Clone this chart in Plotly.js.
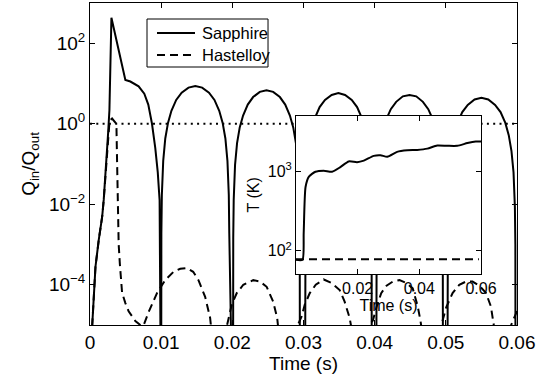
<!DOCTYPE html>
<html>
<head>
<meta charset="utf-8">
<script src="https://cdn.plot.ly/plotly-3.0.1.min.js"></script>
<style>html,body{margin:0;padding:0;background:#fff;}#chart{width:542px;height:379px;}</style>
</head>
<body>
<div id="chart"></div>
<script>
// ---- Main plot: Q_in/Q_out vs time ----
const sapphireTime = [
  0, 0.0003, 0.00053, 0.00077, 0.00123, 0.00171, 0.00193, 0.00227, 0.00255, 0.00273, 0.00287, 0.00301,
  0.00497, 0.00567, 0.00683, 0.00763, 0.00819, 0.00871, 0.00917, 0.00952, 0.00978, 0.00987,
  0.01000, 0.010029, 0.010096, 0.010288, 0.010576, 0.01096, 0.01144, 0.012112, 0.01288, 0.01384, 0.0148,
  0.01576, 0.01672, 0.017488, 0.01816, 0.01864, 0.019024, 0.019312, 0.019504, 0.019571, 0.0196,
  0.0201, 0.020128, 0.020194, 0.020382, 0.020664, 0.02104, 0.02151, 0.022168, 0.02292, 0.02386, 0.0248,
  0.02574, 0.02668, 0.027432, 0.02809, 0.02856, 0.028936, 0.029218, 0.029406, 0.029472, 0.0295,
  0.0302, 0.030228, 0.030294, 0.030482, 0.030764, 0.03114, 0.03161, 0.032268, 0.03302, 0.03396, 0.0349,
  0.03584, 0.03678, 0.037532, 0.03819, 0.03866, 0.039036, 0.039318, 0.039506, 0.039572, 0.0396,
  0.0402, 0.040228, 0.040294, 0.040482, 0.040764, 0.04114, 0.04161, 0.042268, 0.04302, 0.04396, 0.0449,
  0.04584, 0.04678, 0.047532, 0.04819, 0.04866, 0.049036, 0.049318, 0.049506, 0.049572, 0.0496,
  0.0502, 0.050229, 0.050296, 0.050488, 0.050776, 0.05116, 0.05164, 0.052312, 0.05308, 0.05404, 0.055,
  0.05596, 0.05692, 0.057688, 0.05836, 0.05884, 0.059224, 0.059512, 0.059704, 0.059771, 0.0598
];
const sapphireQ = [
  1e-6, 1e-5, 4.2e-5, 2.8e-4, 1.3e-3, 4.9e-3, 0.013, 0.087, 0.6, 2.2, 27, 430,
  12.3, 11.2, 8.5, 5.6, 3.0, 1.0, 0.25, 0.063, 0.0126, 1e-8,
  1e-8, 1.9e-3, 1.7e-2, 0.12, 0.43, 1.05, 2.1, 3.9, 5.9, 7.9, 8.7,
  7.9, 5.9, 3.9, 2.1, 1.05, 0.43, 0.12, 1.7e-2, 1.9e-3, 1e-8,
  1e-8, 1.5e-3, 1.3e-2, 9.5e-2, 0.33, 0.81, 1.6, 3.0, 4.6, 6.2, 6.8,
  6.2, 4.6, 3.0, 1.6, 0.81, 0.33, 9.5e-2, 1.3e-2, 1.5e-3, 1e-8,
  1e-8, 1.3e-3, 1.1e-2, 8.1e-2, 0.28, 0.69, 1.4, 2.6, 3.9, 5.2, 5.8,
  5.2, 3.9, 2.6, 1.4, 0.69, 0.28, 8.1e-2, 1.1e-2, 1.3e-3, 1e-8,
  1e-8, 1.2e-3, 1.0e-2, 7.4e-2, 0.26, 0.63, 1.26, 2.3, 3.5, 4.8, 5.2,
  4.8, 3.5, 2.3, 1.26, 0.63, 0.26, 7.4e-2, 1.0e-2, 1.2e-3, 1e-8,
  1e-8, 9.8e-4, 8.5e-3, 6.2e-2, 0.21, 0.52, 1.05, 1.95, 2.95, 4.0, 4.4,
  4.0, 2.95, 1.95, 1.05, 0.52, 0.21, 6.2e-2, 8.5e-3, 9.8e-4, 1e-8
];

const hastelloyTime = [
  0, 0.0003, 0.00053, 0.00077, 0.00123, 0.00171, 0.00193, 0.00227, 0.00255, 0.00275, 0.0031, 0.0036,
  0.00371, 0.00378, 0.00385, 0.00392, 0.00403, 0.0042, 0.00451, 0.00497, 0.00543, 0.00637, 0.00707, 0.0075,
  0.00824, 0.00941, 0.01057, 0.01174, 0.01268, 0.01361, 0.0145, 0.01524, 0.01618, 0.01688, 0.01716,
  0.0182,
  0.01926, 0.01992, 0.02062, 0.02154, 0.02294, 0.02388, 0.02482, 0.02574, 0.0263, 0.02654,
  0.0279,
  0.0292, 0.02972, 0.03018, 0.03088, 0.03172, 0.03284, 0.03396, 0.03508, 0.03578, 0.03648, 0.03676,
  0.0379,
  0.03914, 0.03975, 0.04027, 0.04092, 0.04167, 0.04255, 0.04349, 0.04447, 0.04535, 0.04605, 0.04643, 0.04671,
  0.0479,
  0.04909, 0.04955, 0.05007, 0.05095, 0.05189, 0.05283, 0.05375, 0.05469, 0.05563, 0.05633, 0.05665, 0.05693,
  0.0581,
  0.05918, 0.0599, 0.06
];
const hastelloyQ = [
  1e-6, 1e-5, 4.2e-5, 2.8e-4, 1.3e-3, 4.9e-3, 0.013, 0.087, 0.6, 1.2, 1.35, 1.1,
  1.0, 0.2, 0.03, 5e-3, 1e-3, 3.2e-4, 6.3e-5, 3.5e-5, 2.2e-5, 1.26e-5, 1e-5, 9.5e-6,
  2.1e-5, 6.2e-5, 1.3e-4, 2.1e-4, 2.5e-4, 2.6e-4, 2.1e-4, 1.3e-4, 5e-5, 1.5e-5, 5e-6,
  1e-6,
  1e-5, 3.2e-5, 6.2e-5, 1e-4, 1.3e-4, 1.2e-4, 8.9e-5, 3.8e-5, 1.5e-5, 6e-6,
  1e-6,
  1e-5, 1.6e-5, 3.2e-5, 6.2e-5, 1e-4, 1.35e-4, 1.1e-4, 7.4e-5, 3.8e-5, 1.5e-5, 8e-6,
  1e-6,
  1e-5, 1.3e-5, 2.8e-5, 6.2e-5, 9.5e-5, 1.2e-4, 1.3e-4, 1.1e-4, 8.1e-5, 2.9e-5, 1.3e-5, 6e-6,
  1e-6,
  1e-5, 1.3e-5, 2.8e-5, 6.2e-5, 1e-4, 1.2e-4, 1.2e-4, 9.5e-5, 6.3e-5, 2.9e-5, 1.3e-5, 6e-6,
  1e-6,
  1e-5, 2e-5, 2.4e-5
];

const unityTime = [0, 0.06];
const unityQ = [1, 1];

// ---- Inset: temperature vs time ----
const insetTime = [0, 0.0021, 0.0025, 0.0031, 0.0042, 0.0063, 0.0090, 0.0117, 0.0144, 0.0171, 0.0198, 0.0220,
  0.0252, 0.0274, 0.0296, 0.0328, 0.0361, 0.0393, 0.0426, 0.0458, 0.0491, 0.0523, 0.0556, 0.0583, 0.0600];
const insetSapphireT = [77, 77, 166, 630, 850, 980, 1010, 980, 1120, 1320, 1290, 1350,
  1550, 1580, 1510, 1740, 1820, 1840, 1910, 2090, 2070, 2070, 2240, 2340, 2340];
const insetHastelloyTime = [0, 0.01, 0.02, 0.03, 0.04, 0.05, 0.0593];
const insetHastelloyT = [78, 78, 78, 78, 78, 78, 78];

// ---- Tick labels ----
const mainXTickVals = [0, 0.01, 0.02, 0.03, 0.04, 0.05, 0.06];
const mainXTickText = ['0', '0.01', '0.02', '0.03', '0.04', '0.05', '0.06'];
const mainYTickVals = [1e-4, 1e-2, 1, 100];
const mainYTickText = ['10<sup>\u22124</sup>', '10<sup>\u22122</sup>', '10<sup>0</sup>', '10<sup>2</sup>'];
const insetXTickVals = [0.02, 0.04, 0.06];
const insetXTickText = ['0.02', '0.04', '0.06'];
const insetYTickVals = [100, 1000];
const insetYTickText = ['10<sup>2</sup>', '10<sup>3</sup>'];

const seriesNames = ['Sapphire', 'Hastelloy'];

const FONT = 'Liberation Sans, Arial, Helvetica, sans-serif';
const DASH = '8px,5px';

const traces = [
  {x: unityTime, y: unityQ, xaxis: 'x', yaxis: 'y', mode: 'lines', showlegend: false, hoverinfo: 'skip',
   line: {color: 'black', width: 2, dash: '2px,4.3px'}},
  {x: sapphireTime, y: sapphireQ, xaxis: 'x', yaxis: 'y', mode: 'lines', name: seriesNames[0], showlegend: false,
   line: {color: 'black', width: 2}},
  {x: hastelloyTime, y: hastelloyQ, xaxis: 'x', yaxis: 'y', mode: 'lines', name: seriesNames[1], showlegend: false,
   line: {color: 'black', width: 2, dash: DASH}},
  {x: insetTime, y: insetSapphireT, xaxis: 'x2', yaxis: 'y2', mode: 'lines', showlegend: false,
   line: {color: 'black', width: 2, shape: 'spline', smoothing: 0.6}},
  {x: insetHastelloyTime, y: insetHastelloyT, xaxis: 'x2', yaxis: 'y2', mode: 'lines', showlegend: false,
   line: {color: 'black', width: 2, dash: DASH}}
];

const axBase = {
  showline: true, linecolor: 'black', linewidth: 1, mirror: 'ticks',
  ticks: 'inside', ticklen: 5, tickwidth: 1, tickcolor: 'black',
  showgrid: false, zeroline: false, automargin: false
};

// legend box (paper coordinates of the main plot area)
const legBox = {x0: 0.1335, x1: 0.4169, y0: 0.8012, y1: 0.9503};
const legRows = [0.9068, 0.8385];
const legLine = {x0: 0.1569, x1: 0.2459};
const legTextX = 0.2576;

const shapes = [
  {type: 'rect', xref: 'paper', yref: 'paper', x0: legBox.x0, x1: legBox.x1, y0: legBox.y0, y1: legBox.y1,
   line: {color: 'black', width: 1}, fillcolor: 'white', layer: 'above'},
  {type: 'line', xref: 'paper', yref: 'paper', x0: legLine.x0, x1: legLine.x1, y0: legRows[0], y1: legRows[0],
   line: {color: 'black', width: 2}, layer: 'above'},
  {type: 'line', xref: 'paper', yref: 'paper', x0: legLine.x0, x1: legLine.x1, y0: legRows[1], y1: legRows[1],
   line: {color: 'black', width: 2, dash: DASH}, layer: 'above'}
];
const annotations = seriesNames.map((n, i) => ({
  xref: 'paper', yref: 'paper', x: legTextX, y: legRows[i], xanchor: 'left', yanchor: 'middle',
  text: n, showarrow: false, font: {size: 16.5, family: FONT, color: 'black'}
}));

const layout = {
  width: 542, height: 379,
  margin: {l: 90, r: 25, t: 3, b: 54, pad: 0},
  paper_bgcolor: 'white', plot_bgcolor: 'white',
  font: {family: FONT, color: 'black', size: 19},
  showlegend: false,
  shapes: shapes,
  annotations: annotations,
  xaxis: Object.assign({}, axBase, {
    domain: [0, 1], anchor: 'y', range: [0, 0.06],
    tickmode: 'array', tickvals: mainXTickVals, ticktext: mainXTickText,
    tickfont: {size: 19},
    title: {text: 'Time (s)', font: {size: 19}, standoff: 4}
  }),
  yaxis: Object.assign({}, axBase, {
    domain: [0, 1], anchor: 'x', type: 'log', range: [-5, 3],
    tickmode: 'array', tickvals: mainYTickVals, ticktext: mainYTickText,
    tickfont: {size: 19},
    title: {text: 'Q<sub>in</sub>/Q<sub>out</sub>', font: {size: 19}, standoff: 8}
  }),
  xaxis2: Object.assign({}, axBase, {
    domain: [0.4824, 0.9157], anchor: 'y2', range: [0, 0.06],
    tickmode: 'array', tickvals: insetXTickVals, ticktext: insetXTickText,
    tickfont: {size: 16},
    title: {text: 'Time (s)', font: {size: 16}, standoff: 2}
  }),
  yaxis2: Object.assign({}, axBase, {
    domain: [0.1584, 0.650], anchor: 'x2', type: 'log', range: [1.708, 3.694],
    tickmode: 'array', tickvals: insetYTickVals, ticktext: insetYTickText,
    tickfont: {size: 16},
    title: {text: 'T (K)', font: {size: 16}, standoff: 4}
  })
};

Plotly.newPlot('chart', traces, layout, {displayModeBar: false, staticPlot: true});
</script>
</body>
</html>
